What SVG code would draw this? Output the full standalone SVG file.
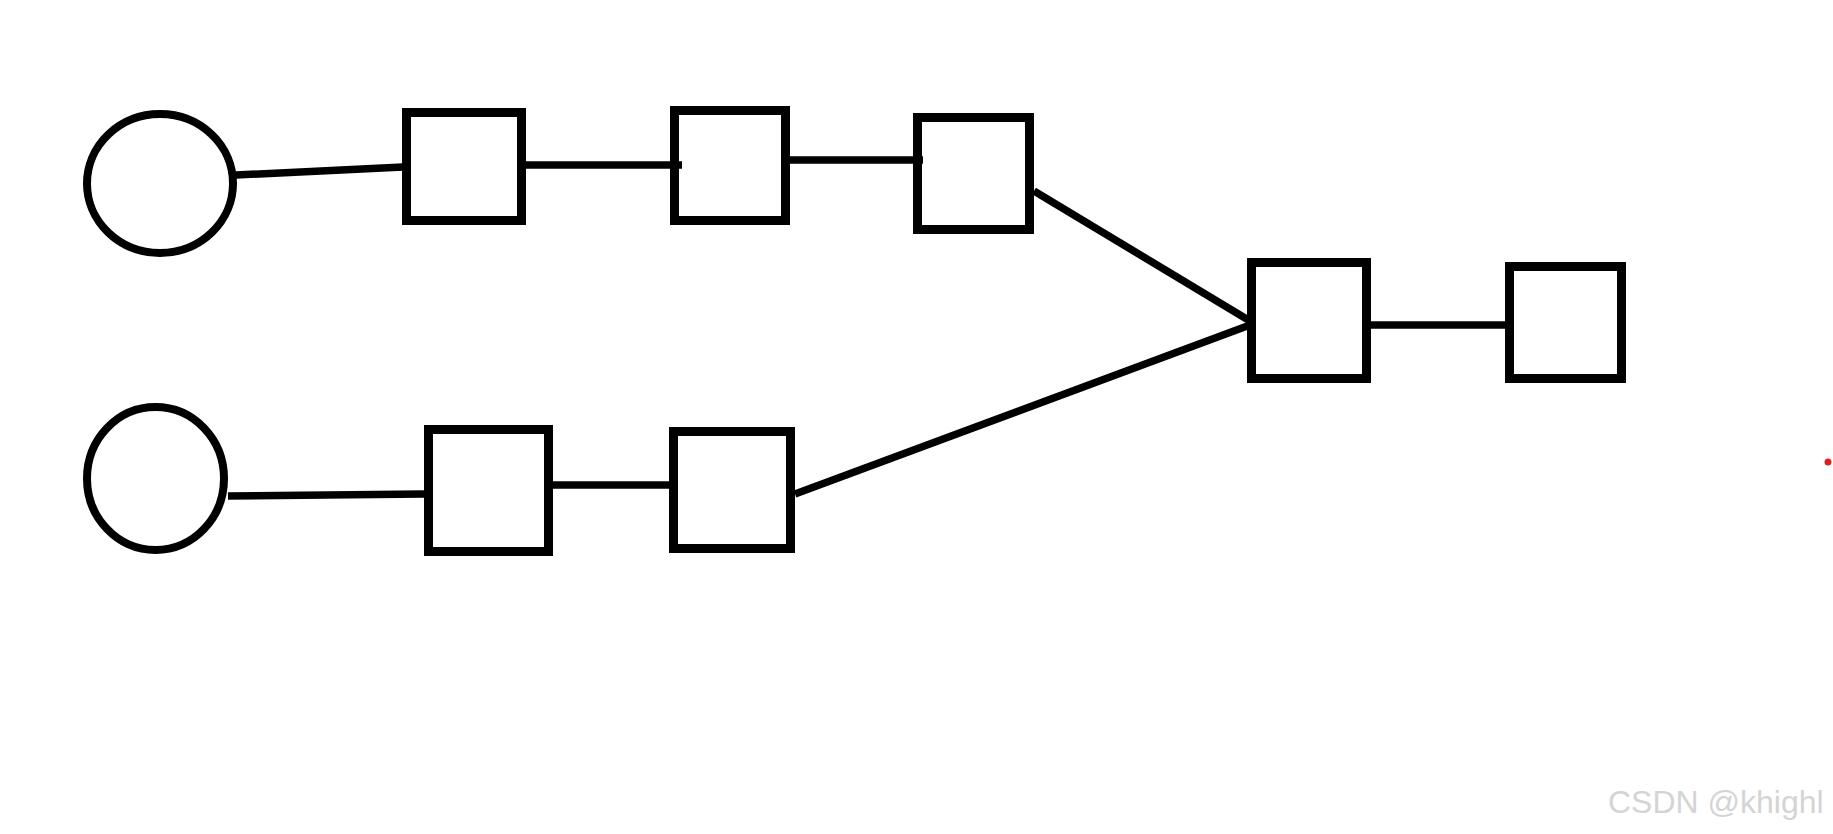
<svg xmlns="http://www.w3.org/2000/svg" width="1833" height="834" viewBox="0 0 1833 834">
<style>
.n{fill:none;stroke:#000;stroke-width:9}
.c{fill:none;stroke:#000;stroke-width:8}
.e{stroke:#000;stroke-width:7.5;fill:none}
.wm{font-family:"Liberation Sans",Arial,sans-serif;font-size:32px;fill:#d4d4d4}
</style>
<rect width="1833" height="834" fill="#fff"/>
<g id="connectors">
<line class="e" x1="236" y1="175" x2="403" y2="167"/>
<line class="e" x1="526" y1="165" x2="682" y2="165"/>
<line class="e" x1="790" y1="160" x2="923" y2="160"/>
<line class="e" x1="1034" y1="191" x2="1250" y2="321"/>
<line class="e" x1="795" y1="494" x2="1250" y2="325"/>
<line class="e" x1="1371" y1="325" x2="1505" y2="325"/>
<line class="e" x1="228" y1="496" x2="424" y2="494"/>
<line class="e" x1="553" y1="485" x2="669" y2="485"/>
</g>
<g id="start1"><ellipse class="c" cx="160" cy="183.5" rx="73" ry="69.5"/></g>
<g id="start2"><ellipse class="c" cx="155.5" cy="478.5" rx="68.5" ry="71.5"/></g>
<g id="box1"><rect class="n" x="406.5" y="112.5" width="115" height="108"/></g>
<g id="box2"><rect class="n" x="674.5" y="110.5" width="111" height="110"/></g>
<g id="box3"><rect class="n" x="917.5" y="117.5" width="112" height="112"/></g>
<g id="box5"><rect class="n" x="1251.5" y="262.5" width="115" height="116"/></g>
<g id="box6"><rect class="n" x="1509.5" y="266.5" width="112" height="112"/></g>
<g id="boxb1"><rect class="n" x="428.5" y="429.5" width="120" height="122"/></g>
<g id="boxb2"><rect class="n" x="673.5" y="431.5" width="117" height="117"/></g>
<circle cx="1828" cy="462" r="3.5" fill="#e02020"/>
<text class="wm" x="1608" y="813">CSDN @khighl</text>
</svg>
